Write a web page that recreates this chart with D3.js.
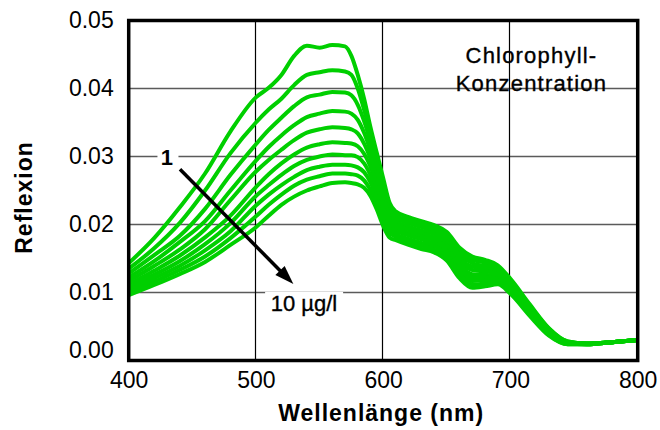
<!DOCTYPE html>
<html><head><meta charset="utf-8">
<script src="https://cdn.jsdelivr.net/npm/d3@7"></script>
<style>body{margin:0;background:#fff}svg{display:block}</style>
</head><body>
<svg id="chart" width="660" height="430"></svg>
<script>
// ---- data ----
const wavelengths = [400,420,440,460,480,500,510,520,530,540,550,560,570,575,580,585,590,595,600,605,610,620,630,640,650,660,670,680,690,700,715,730,745,760,780,800];
const conc1  = [.0143,.0180,.0225,.0275,.0337,.0387,.0401,.0420,.0448,.0463,.0460,.0464,.0462,.0448,.0420,.0385,.0343,.0305,.0268,.0232,.0219,.0211,.0205,.0199,.0189,.0166,.0153,.0148,.0140,.0120,.0083,.0048,.0028,.0025,.0027,.0030];
const conc2  = [.0135,.0165,.0202,.0250,.0305,.0350,.0369,.0385,.0405,.0420,.0424,.0427,.0425,.0420,.0400,.0369,.0334,.0298,.0263,.0228,.0214,.0206,.0200,.0195,.0184,.0161,.0148,.0144,.0137,.0118,.0081,.0047,.0028,.0025,.0027,.0030];
const conc3  = [.0128,.0155,.0183,.0223,.0273,.0318,.0339,.0357,.0374,.0387,.0391,.0395,.0394,.0390,.0376,.0352,.0322,.0290,.0257,.0224,.0210,.0202,.0196,.0190,.0180,.0156,.0143,.0139,.0134,.0115,.0079,.0046,.0027,.0025,.0027,.0030];
const conc4  = [.0122,.0146,.0174,.0205,.0250,.0294,.0314,.0331,.0346,.0358,.0363,.0367,.0366,.0363,.0354,.0335,.0309,.0280,.0249,.0218,.0205,.0197,.0191,.0186,.0175,.0151,.0138,.0135,.0131,.0113,.0077,.0044,.0027,.0025,.0027,.0030];
const conc5  = [.0117,.0139,.0163,.0193,.0236,.0278,.0295,.0310,.0324,.0335,.0340,.0343,.0342,.0340,.0334,.0319,.0297,.0270,.0241,.0212,.0200,.0193,.0187,.0181,.0170,.0146,.0133,.0131,.0128,.0110,.0075,.0043,.0026,.0025,.0027,.0030];
const conc6  = [.0112,.0132,.0154,.0181,.0213,.0255,.0274,.0290,.0303,.0313,.0318,.0321,.0320,.0319,.0315,.0304,.0285,.0260,.0233,.0206,.0196,.0188,.0182,.0177,.0166,.0141,.0127,.0126,.0124,.0108,.0074,.0042,.0026,.0024,.0027,.0030];
const conc7  = [.0108,.0126,.0146,.0171,.0202,.0242,.0258,.0273,.0286,.0295,.0300,.0303,.0302,.0302,.0299,.0290,.0273,.0250,.0225,.0200,.0191,.0184,.0178,.0172,.0161,.0136,.0122,.0122,.0121,.0105,.0072,.0041,.0025,.0024,.0027,.0030];
const conc8  = [.0104,.0121,.0139,.0162,.0190,.0228,.0244,.0258,.0270,.0280,.0285,.0288,.0288,.0287,.0284,.0277,.0262,.0240,.0216,.0194,.0186,.0179,.0173,.0168,.0156,.0131,.0117,.0118,.0118,.0103,.0070,.0040,.0025,.0024,.0027,.0030];
const conc9  = [.0100,.0116,.0133,.0153,.0180,.0212,.0229,.0244,.0257,.0266,.0271,.0275,.0275,.0274,.0272,.0265,.0251,.0232,.0208,.0188,.0182,.0175,.0169,.0163,.0152,.0126,.0112,.0113,.0115,.0100,.0068,.0038,.0024,.0024,.0027,.0030];
const conc10 = [.0096,.0111,.0127,.0145,.0170,.0196,.0213,.0229,.0241,.0250,.0256,.0261,.0262,.0261,.0259,.0254,.0242,.0222,.0198,.0181,.0177,.0170,.0164,.0159,.0147,.0121,.0107,.0109,.0112,.0098,.0066,.0037,.0024,.0024,.0027,.0030];
const seriesList = [conc1,conc2,conc3,conc4,conc5,conc6,conc7,conc8,conc9,conc10];
const xTicks = [400,500,600,700,800];
const yTicks = [0,0.01,0.02,0.03,0.04,0.05];
const xTitle = "Wellenlänge (nm)";
const yTitle = "Reflexion";
const legendLines = ["Chlorophyll-","Konzentration"];
const arrowFrom = [440.3, 0.02812];
const arrowTo = [529.4, 0.01125];
const labelLow = "1";
const labelHigh = "10 µg/l";

// ---- layout ----
const svg = d3.select("#chart");
const L = 128.7, R = 637.7, T = 20.5, B = 360.5;
const x = d3.scaleLinear().domain([400,800]).range([L,R]);
const y = d3.scaleLinear().domain([0,0.05]).range([B,T]);
const font = "'Liberation Sans', Arial, Helvetica, sans-serif";
const green = "#00cf00";

svg.append("rect").attr("width",660).attr("height",430).attr("fill","#fff");

// horizontal grid
svg.append("g").selectAll("line").data(yTicks.filter(d=>d>0 && d<0.05)).join("line")
  .attr("x1",L).attr("x2",R).attr("y1",d=>y(d)).attr("y2",d=>y(d))
  .attr("stroke","#5a5a5a").attr("stroke-width",1.6);

// white boxes behind annotation labels
svg.append("rect").attr("x",x(422.6)).attr("y",y(0.0313)).attr("width",21).attr("height",21).attr("fill","#fff");
svg.append("rect").attr("x",x(507.2)).attr("y",y(0.0101)).attr("width",78).attr("height",24).attr("fill","#fff");

// vertical grid
svg.append("g").selectAll("line").data(xTicks.filter(d=>d>400 && d<800)).join("line")
  .attr("x1",d=>Math.round(x(d))-0.5).attr("x2",d=>Math.round(x(d))-0.5).attr("y1",T).attr("y2",B)
  .attr("stroke","#000").attr("stroke-width",1.2);

// curves
const line = d3.line().x((d,i)=>x(wavelengths[i])).y(d=>y(d)).curve(d3.curveMonotoneX);
svg.append("defs").append("clipPath").attr("id","clip").append("rect")
  .attr("x",L).attr("y",T).attr("width",R-L).attr("height",B-T);
svg.append("g").attr("clip-path","url(#clip)").selectAll("path").data(seriesList).join("path")
  .attr("d",line).attr("fill","none").attr("stroke",green).attr("stroke-width",4)
  .attr("stroke-linejoin","round");

// frame
svg.append("rect").attr("x",L).attr("y",T).attr("width",R-L).attr("height",B-T)
  .attr("fill","none").attr("stroke","#000").attr("stroke-width",3.5);

// axes
const yAxis = svg.append("g").attr("transform",`translate(${L},0)`)
  .call(d3.axisLeft(y).tickValues(yTicks).tickSize(0).tickPadding(15).tickFormat(d3.format(".2f")));
yAxis.select(".domain").remove();
yAxis.selectAll("text").attr("font-family",font).attr("font-size",23).attr("fill","#000");
yAxis.selectAll(".tick").filter(d=>d===0).select("text").attr("transform","translate(0,-10)");

const xAxis = svg.append("g").attr("transform",`translate(0,${B})`)
  .call(d3.axisBottom(x).tickValues(xTicks).tickSize(0).tickPadding(11.5).tickFormat(d3.format("d")));
xAxis.select(".domain").remove();
xAxis.selectAll("text").attr("font-family",font).attr("font-size",23).attr("fill","#000");

// titles
svg.append("text").attr("x",(L+R)/2-2).attr("y",421).attr("text-anchor","middle")
  .attr("font-family",font).attr("font-size",23).attr("font-weight","bold").attr("letter-spacing",1)
  .text(xTitle);
svg.append("text").attr("transform","translate(31.5,197.5) rotate(-90)").attr("text-anchor","middle")
  .attr("font-family",font).attr("font-size",23).attr("font-weight","bold").attr("letter-spacing",1)
  .text(yTitle);

// legend text
svg.append("g").selectAll("text").data(legendLines).join("text")
  .attr("x",x(716.5)).attr("y",(d,i)=>y(i===0?0.04379:0.03968)).attr("text-anchor","middle")
  .attr("font-family",font).attr("font-size",22).attr("letter-spacing",1.2).attr("fill","#000")
  .attr("stroke","#000").attr("stroke-width",0.35)
  .text(d=>d);

// annotations
svg.append("text").attr("x",x(430)).attr("y",y(0.02875)).attr("text-anchor","middle")
  .attr("font-family",font).attr("font-size",22).attr("font-weight","bold").text(labelLow);
svg.append("text").attr("x",x(511.6)).attr("y",y(0.00728))
  .attr("font-family",font).attr("font-size",22).attr("stroke","#000").attr("stroke-width",0.35).text(labelHigh);

// arrow
const x0 = x(arrowFrom[0]), y0 = y(arrowFrom[1]), x1 = x(arrowTo[0]), y1 = y(arrowTo[1]);
const ang = Math.atan2(y1-y0, x1-x0), hl = 19, hw = 6.5;
const bx = x1 - hl*Math.cos(ang), by = y1 - hl*Math.sin(ang);
svg.append("line").attr("x1",x0).attr("y1",y0).attr("x2",bx+2*Math.cos(ang)).attr("y2",by+2*Math.sin(ang))
  .attr("stroke","#000").attr("stroke-width",3.5);
svg.append("polygon").attr("points",[
  [x1,y1],
  [bx + hw*Math.sin(ang), by - hw*Math.cos(ang)],
  [bx - hw*Math.sin(ang), by + hw*Math.cos(ang)]
].map(p=>p.join(",")).join(" ")).attr("fill","#000");
</script>
</body></html>
